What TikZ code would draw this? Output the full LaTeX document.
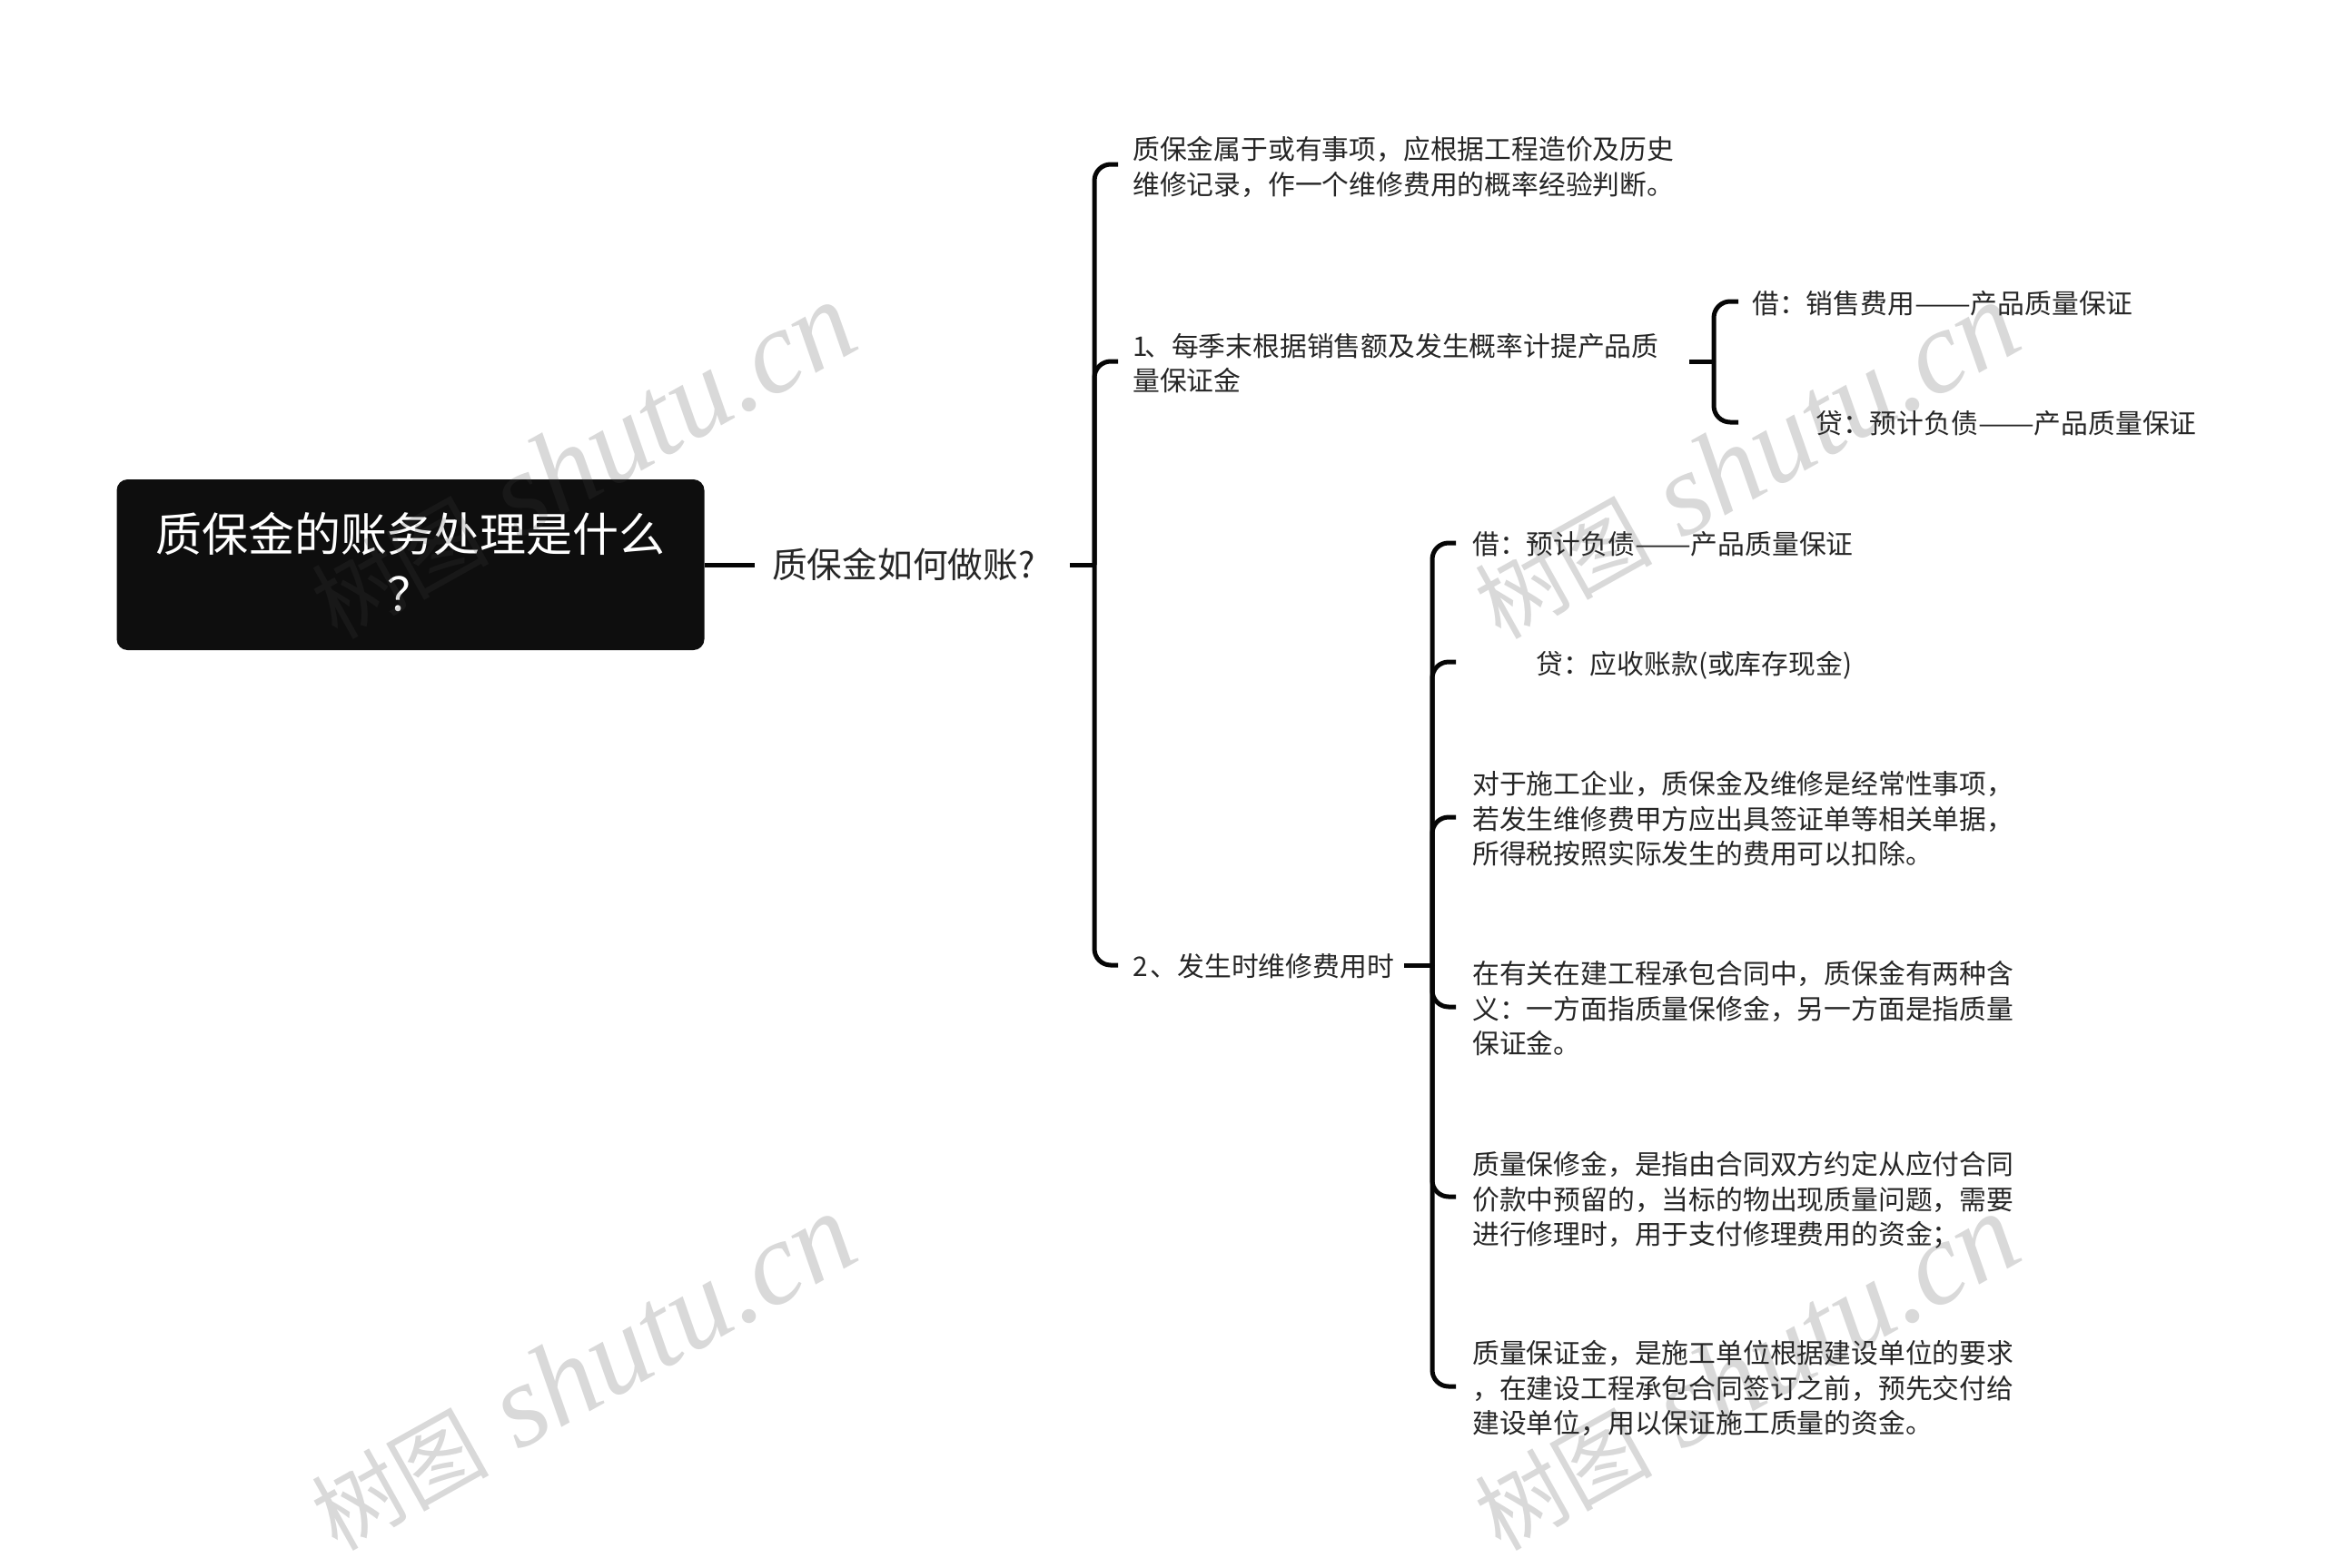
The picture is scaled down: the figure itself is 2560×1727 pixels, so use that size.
\documentclass[tikz,border=0pt]{standalone}
\usepackage{fontspec}
\setmainfont{Noto Sans CJK SC}
\newfontfamily\wmlatin{Liberation Serif}
\newfontfamily\wmcjk{Noto Sans CJK SC}
\definecolor{inkblack}{HTML}{0E0E0E}
\definecolor{linkblack}{HTML}{060606}
\definecolor{bodytext}{HTML}{262626}
\definecolor{wmgrey}{HTML}{414141}
\newcommand{\longdash}{\scalebox{1.24}[1]{——}}
\tikzset{
  conn/.style={draw=linkblack,line width=5pt,rounded corners=18pt},
  rootbox/.style={fill=inkblack,rounded corners=12pt,text=white,
    minimum width=647pt,minimum height=188pt,inner sep=0pt,
    font=\fontsize{51}{66}\selectfont},
  subbox/.style={anchor=west,inner xsep=19pt,inner ysep=4pt,text=bodytext,text width=309pt,align=left,
    font=\fontsize{38.7}{46}\selectfont},
  leaf/.style={anchor=west,inner xsep=16pt,inner ysep=2pt,text=bodytext,align=left,
    font=\fontsize{29.8}{38.5}\selectfont},
  watermark/.style={anchor=base west,rotate=29.2,inner sep=0pt,text=wmgrey,text opacity=0.2}
}
\newcommand{\wmtext}{{\wmcjk\fontsize{98}{98}\selectfont 树图}\hspace{32pt}{\wmlatin\itshape\fontsize{130}{130}\selectfont shutu.cn}}
\begin{document}
\begin{tikzpicture}[x=1pt,y=-1pt]
\useasboundingbox (0,0) rectangle (2560,1727);
% nodes
\node[rootbox] (root) at (452,622) {\parbox{640pt}{\centering 质保金的账务处理是什么\\？\par\vspace{6pt}}};
\node[subbox] (sub) at (831,622) {质保金如何做账?};
\coordinate (tkA) at (1205,622);
\node[leaf,text width=620pt] (a1) at (1231,184) {质保金属于或有事项，应根据工程造价及历史\\维修记录，作一个维修费用的概率经验判断。};
\node[leaf,text width=597pt] (a2) at (1231,400) {1\kern-3.5pt 、每季末根据销售额及发生概率计提产品质\\量保证金};
\node[leaf,text width=283pt] (a3) at (1231,1064) {2\kern3pt 、发生时维修费用时};
\coordinate (tkB) at (1887,398);
\node[leaf,inner xsep=15pt,text width=620pt] (b1) at (1914,334) {借：销售费用\longdash 产品质量保证};
\node[leaf,inner xsep=15pt,text width=620pt] (b2) at (1914,466) {\hspace*{70pt}贷：预计负债\longdash 产品质量保证};
\coordinate (tkC) at (1577,1063);
\node[leaf,inner xsep=18pt,text width=620pt] (c1) at (1603,599) {借：预计负债\longdash 产品质量保证};
\node[leaf,inner xsep=18pt,text width=620pt] (c2) at (1603,733) {\hspace*{70pt}贷：应收账款(或库存现金)};
\node[leaf,inner xsep=18pt,text width=620pt] (c3) at (1603,902) {对于施工企业，质保金及维修是经常性事项，\\若发生维修费甲方应出具签证单等相关单据，\\所得税按照实际发生的费用可以扣除。};
\node[leaf,inner xsep=18pt,text width=620pt] (c4) at (1603,1111) {在有关在建工程承包合同中，质保金有两种含\\义：一方面指质量保修金，另一方面是指质量\\保证金。};
\node[leaf,inner xsep=18pt,text width=620pt] (c5) at (1603,1322) {质量保修金，是指由合同双方约定从应付合同\\价款中预留的，当标的物出现质量问题，需要\\进行修理时，用于支付修理费用的资金；};
\node[leaf,inner xsep=18pt,text width=620pt] (c6) at (1603,1529) {质量保证金，是施工单位根据建设单位的要求\\，在建设工程承包合同签订之前，预先交付给\\建设单位，用以保证施工质量的资金。};
% connectors (the yshift puts each branch where the reference has it, a little above its text's centre)
\draw[conn] (root.east) -- (sub.west);
\draw[conn] (sub.east) -- (tkA);
\draw[conn] (tkA) |- ([yshift=3pt]a1.west);
\draw[conn] (tkA) |- ([yshift=2pt]a2.west);
\draw[conn] (tkA) |- ([yshift=1pt]a3.west);
\draw[conn] ([yshift=2pt]a2.east) -- (tkB);
\draw[conn] (tkB) |- ([yshift=2pt]b1.west);
\draw[conn] (tkB) |- ([yshift=1pt]b2.west);
\draw[conn] ([yshift=1pt]a3.east) -- (tkC);
\draw[conn] (tkC) |- ([yshift=1pt]c1.west);
\draw[conn] (tkC) |- ([yshift=4pt]c2.west);
\draw[conn] (tkC) |- ([yshift=2pt]c3.west);
\draw[conn] (tkC) |- ([yshift=2pt]c4.west);
\draw[conn] (tkC) |- ([yshift=4pt]c5.west);
\draw[conn] (tkC) |- ([yshift=2pt]c6.west);
% watermarks
\node[watermark] (w1) at (371,706) {\wmtext};
\node[watermark] (w2) at (1652,706) {\wmtext};
\node[watermark] (w3) at (371,1710) {\wmtext};
\node[watermark] (w4) at (1652,1710) {\wmtext};
\end{tikzpicture}
\end{document}
